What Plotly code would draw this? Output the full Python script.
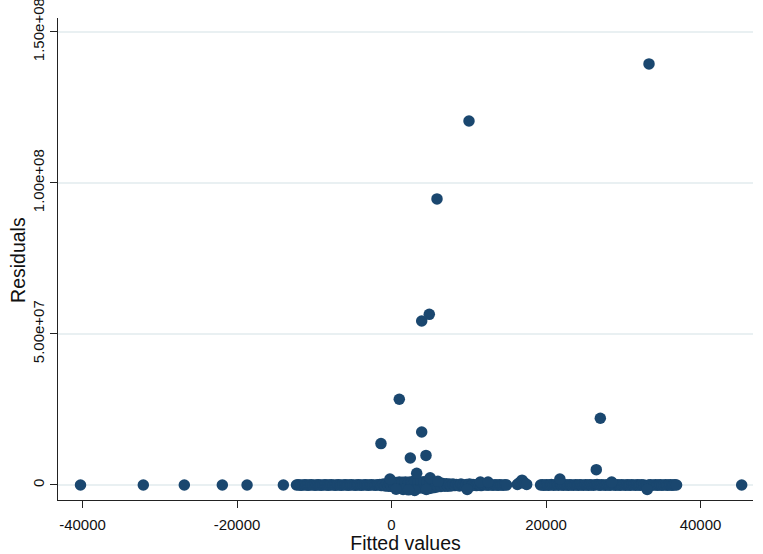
import plotly.graph_objects as go

# Large residuals (outliers)
out_x = [33333, 10030, 5890, 3909, 4893, 1010, -1360, 3909, 2434, 4466, 27030, 26510, 3260]
out_y = [1.394e8, 1.205e8, 9.47e7, 5.43e7, 5.65e7, 2.84e7, 1.37e7, 1.755e7, 8.94e6, 9.8e6, 2.21e7, 5.07e6, 3.9e6]

# Isolated points near zero residual
iso_x = [-40260, -32130, -26820, -21900, -18700, -14000, 45330]
iso_y = [0, 0, 0, 0, 0, 0, 0]

# Dense band of points around zero
band_x = [-12300, -12100, -11900, -11700, -11450, -11200, -11000, -10800, -10600, -10400,
          -10150, -9900, -9700, -9500, -9300, -9100, -8850, -8600, -8400, -8200,
          -8000, -7800, -7550, -7300, -7100, -6900, -6700, -6500, -6250, -6000,
          -5800, -5600, -5400, -5200, -4950, -4700, -4500, -4300, -4100, -3900,
          -3650, -3400, -3200, -3000, -2800, -2600, -2350, -2100, -1900, -1700,
          -1500, -1300, -1050, -800, -600, -400, -200, 0, 200, 400,
          600, 800, 1000, 1200, 1400, 1600, 1800, 2000, 2200, 2400,
          2600, 2800, 3000, 3200, 3400, 3600, 3800, 4000, 4200, 4400,
          4600, 4800, 5000, 5200, 5400, 5600, 5800, 6000, 6200, 6400,
          6650, 6900, 7100, 7300, 7500, 7700, 7950, 8200, 8400, 8600,
          8800, 9000, 9250, 9500, 9700, 9900, 10100, 10300, 10550, 10800,
          11000, 11200, 11400, 11600, 11850, 12100, 12300, 12500, 12700, 12900,
          13150, 13400, 13600, 13800, 14000, 14200, 14450, 14700, 14900,
          16300, 16500, 16700, 16900, 17100, 17300, 17500,
          19300, 19500, 19700, 19900, 20100, 20300, 20500, 20700, 20950, 21200,
          21400, 21600, 21800, 22000, 22250, 22500, 22700, 22900, 23100, 23300,
          23550, 23800, 24000, 24200, 24400, 24600, 24850, 25100, 25300, 25500,
          25700, 25900, 26150, 26400, 26600, 26800, 27000, 27200, 27450, 27700,
          27900, 28100, 28300, 28500, 28750, 29000, 29200, 29400, 29600, 29800,
          30050, 30300, 30500, 30700, 30900, 31100, 31350, 31600, 31800, 32000,
          32200, 32400, 32650, 32900, 33100, 33300, 33500, 33700, 33950, 34200,
          34400, 34600, 34800, 35000, 35250, 35500, 35700, 35900, 36100, 36300,
          36500, 36700, 36900,
          -200, 5000, 21800, 6000, 11500, 12500, 28500, 1500, 3000, 4500, 9800, 33100, 600, 2200]
band_y = [0, 1e5, 0, -1e5, 0, 1e5, 0, -1e5, 0, 1e5,
          0, -1e5, 0, 1e5, 0, -1e5, 0, 1e5, 0, -1e5,
          0, 1e5, 0, -1e5, 0, 1e5, 0, -1e5, 0, 1e5,
          0, -1e5, 0, 1e5, 0, -1e5, 0, 1e5, 0, -1e5,
          0, 1e5, 0, -1e5, 0, 1e5, 0, -1e5, 0, 1e5,
          2e5, -2e5, 3e5, -3e5, 4e5, -4e5, 5e5, -5e5, 6e5, -6e5,
          8e5, -8e5, 1.0e6, -1.0e6, 9e5, -9e5, 1.0e6, -1.0e6, 9e5, -9e5,
          1.1e6, -1.1e6, 1.2e6, -1.1e6, 1.0e6, -1.0e6, 1.0e6, -1.0e6, 1.1e6, -1.1e6,
          1.1e6, -1.2e6, 1.0e6, -1.0e6, 9e5, -8e5, 8e5, -6e5, 6e5, -5e5,
          5e5, -4e5, 4e5, -4e5, 3e5, -3e5, 3e5, -2e5, 2e5, 0,
          -3e5, 3e5, 0, -2e5, 2e5, 0, 3e5, -3e5, 2e5, 0,
          -2e5, 2e5, 0, -2e5, 2e5, 0, 1e5, -1e5, 2e5, 0,
          -1e5, 1e5, 0, -1e5, 1e5, 0, -1e5, 1e5, 0,
          2e5, 6e5, 1.0e6, 1.6e6, 9e5, 5e5, 2e5,
          0, 1e5, -1e5, 0, 1e5, -1e5, 0, 2e5, -1e5, 0,
          2e5, -1e5, 3e5, 0, -1e5, 1e5, 0, -1e5, 1e5, 0,
          -1e5, 1e5, 0, -1e5, 1e5, 0, -1e5, 1e5, 0, -1e5,
          1e5, 0, -1e5, 1e5, 2e5, 0, -1e5, 1e5, 0, -1e5,
          1e5, 0, -1e5, 2e5, 0, -1e5, 1e5, 0, -1e5, 1e5,
          0, -1e5, 1e5, 0, -1e5, 1e5, 0, -1e5, 1e5, 0,
          -1e5, 1e5, 0, -2e5, -3e5, 0, 1e5, -1e5, 0, 1e5,
          -1e5, 0, 1e5, -1e5, 0, 1e5, -1e5, 0, 1e5, -1e5,
          0, 1e5, 0,
          2.0e6, 2.4e6, 2.0e6, 1.2e6, 1.0e6, 1.0e6, 1.0e6, -1.5e6, -1.8e6, -1.5e6, -1.5e6, -1.5e6, -1.4e6, -1.6e6]

x_ticks = [-40000, -20000, 0, 20000, 40000]
x_tick_labels = ["-40000", "-20000", "0", "20000", "40000"]
y_ticks = [0, 5e7, 1e8, 1.5e8]
y_tick_labels = ["0", "5.00e+07", "1.00e+08", "1.50e+08"]
x_title = "Fitted values"
y_title = "Residuals"

navy = "#1a476f"
all_x = band_x + iso_x + out_x
all_y = band_y + iso_y + out_y

fig = go.Figure()
fig.add_trace(go.Scatter(
    x=all_x, y=all_y, mode="markers",
    marker=dict(color=navy, size=11.5, line=dict(width=0)),
    showlegend=False,
))

font_family = "Liberation Sans, Arial, sans-serif"
fig.update_layout(
    width=763, height=554, autosize=False,
    margin=dict(l=58, r=10, t=18, b=54),
    plot_bgcolor="white", paper_bgcolor="white",
    font=dict(family=font_family, color="#111111"),
)
fig.update_xaxes(
    range=[-43171, 46796], automargin=False,
    tickmode="array", tickvals=x_ticks, ticktext=x_tick_labels,
    ticks="outside", ticklen=7, tickwidth=1.3, tickcolor="#222222",
    showline=True, linecolor="#222222", linewidth=1.3,
    showgrid=False, zeroline=False,
    tickfont=dict(size=15, family=font_family),
    ticklabeloverflow="allow", ticklabelstandoff=4,
    title=dict(text=x_title, font=dict(size=19.5, family=font_family), standoff=0),
)
fig.update_yaxes(
    range=[-4.97e6, 1.546e8], automargin=False,
    tickmode="array", tickvals=y_ticks, ticktext=y_tick_labels,
    tickangle=-90,
    ticks="outside", ticklen=7, tickwidth=1.3, tickcolor="#222222",
    showline=True, linecolor="#222222", linewidth=1.3,
    showgrid=True, gridcolor="#e9f0f2", gridwidth=1.5,
    zeroline=False,
    tickfont=dict(size=15, family=font_family),
    ticklabeloverflow="allow",
)
# y-axis title placed as a rotated annotation (plotly clamps axis titles into the margin)
fig.add_annotation(
    text=y_title, textangle=-90, showarrow=False,
    xref="paper", yref="paper", x=-0.0576, y=0.498,
    xanchor="center", yanchor="middle",
    font=dict(size=19.5, family=font_family, color="#111111"),
)

fig.write_html("out.html", config={"displayModeBar": False},
               post_script="document.body.style.margin='0';")
